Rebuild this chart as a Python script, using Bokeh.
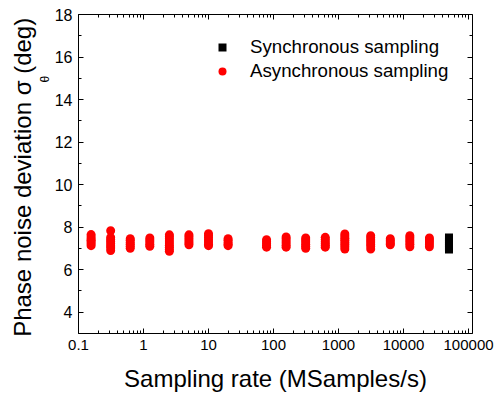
from bokeh.plotting import figure
from bokeh.models import (Range1d, FixedTicker, LogAxis, LinearAxis, Title,
                          Legend, LegendItem, CustomJSTickFormatter, ColumnDataSource)
from bokeh.embed import file_html
from bokeh.resources import INLINE

# ---------------- data ----------------
async_rates = [0.15625, 0.3125, 0.625, 1.25, 2.5, 5, 10, 20, 78.125,
               156.25, 312.5, 625, 1250, 3125, 6250, 12500, 25000]
async_dev = [
    [7.65, 7.55, 7.45, 7.38, 7.30, 7.22, 7.13],
    [7.83, 7.52, 7.42, 7.33, 7.22, 7.12, 7.02, 6.90],
    [7.46, 7.38, 7.28, 7.20, 7.10, 7.01],
    [7.49, 7.40, 7.30, 7.20, 7.10],
    [7.64, 7.55, 7.45, 7.35, 7.25, 7.15, 7.05, 6.95, 6.87],
    [7.64, 7.55, 7.45, 7.35, 7.25, 7.17],
    [7.69, 7.60, 7.50, 7.40, 7.30, 7.20, 7.13],
    [7.46, 7.38, 7.28, 7.20, 7.13],
    [7.41, 7.32, 7.22, 7.14, 7.06],
    [7.54, 7.45, 7.35, 7.25, 7.15, 7.06],
    [7.49, 7.40, 7.30, 7.20, 7.10, 7.01],
    [7.52, 7.42, 7.32, 7.22, 7.14, 7.06],
    [7.68, 7.58, 7.48, 7.38, 7.28, 7.18, 7.08, 6.97],
    [7.60, 7.50, 7.40, 7.30, 7.20, 7.10, 6.97],
    [7.46, 7.38, 7.30, 7.22, 7.17],
    [7.60, 7.50, 7.40, 7.30, 7.20, 7.08],
    [7.49, 7.40, 7.30, 7.20, 7.08],
]
sync_rate = 50000
sync_dev = [7.51, 7.42, 7.32, 7.22, 7.12, 7.03, 6.95]

x_ticks = [0.1, 1, 10, 100, 1000, 10000, 100000]
x_tick_labels = ["0.1", "1", "10", "100", "1000", "10000", "100000"]
y_ticks = [4, 6, 8, 10, 12, 14, 16, 18]
y_minor = [3, 5, 7, 9, 11, 13, 15, 17]
x_minor = [m * d for d in [0.1, 1, 10, 100, 1000, 10000] for m in range(2, 10)]

x_title = "Sampling rate (MSamples/s)"
y_title = "Phase noise deviation σ  (deg)"
y_sub = "θ"

# ---------------- layout ----------------
W, H = 494, 395
L, R, T, B = 78, 472, 14, 333
X0, X1 = 0.1, 1.15e5
Y0, Y1 = 3, 18
FONT = "Liberation Sans"

p = figure(width=W, height=H, x_axis_type="log",
           x_range=Range1d(X0, X1), y_range=Range1d(Y0, Y1),
           output_backend="svg", toolbar_location=None,
           min_border_left=L, min_border_right=W - R,
           min_border_top=T, min_border_bottom=H - B)
p.xgrid.visible = False
p.ygrid.visible = False
p.outline_line_color = None
p.background_fill_color = "white"
p.border_fill_color = "white"

xs = [r for r, devs in zip(async_rates, async_dev) for _ in devs]
ys = [v for devs in async_dev for v in devs]
src_async = ColumnDataSource(dict(x=xs, y=ys))
src_sync = ColumnDataSource(dict(x=[sync_rate] * len(sync_dev), y=sync_dev))

r_async = p.scatter("x", "y", source=src_async, marker="circle", size=9,
                    fill_color="#ff0000", line_color=None)
r_sync = p.scatter("x", "y", source=src_sync, marker="square", size=8,
                   fill_color="black", line_color=None)

xfmt = CustomJSTickFormatter(args=dict(vals=x_ticks, labs=x_tick_labels), code="""
for (let i = 0; i < vals.length; i++) {
  if (Math.abs(Math.log10(tick) - Math.log10(vals[i])) < 1e-6) return labs[i];
}
return '';
""")

def style(ax, size=None):
    ax.axis_line_color = "black"
    ax.axis_line_width = 1
    ax.major_tick_line_color = "black"
    ax.minor_tick_line_color = "black"
    ax.major_tick_in = 5
    ax.major_tick_out = 0
    ax.minor_tick_in = 3
    ax.minor_tick_out = 0
    if size:
        ax.major_label_text_font = FONT
        ax.major_label_text_font_size = size
        ax.major_label_text_color = "black"
        ax.major_label_standoff = 6
    else:
        ax.major_label_text_font_size = "1px"
        ax.major_label_text_color = None
        ax.major_label_standoff = 0

p.xaxis[0].ticker = FixedTicker(ticks=x_ticks, minor_ticks=x_minor)
p.xaxis[0].formatter = xfmt
p.yaxis[0].ticker = FixedTicker(ticks=y_ticks, minor_ticks=y_minor)
style(p.xaxis[0], "15px")
style(p.yaxis[0], "16px")

p.xaxis[0].axis_label = x_title
p.xaxis[0].axis_label_text_font = FONT
p.xaxis[0].axis_label_text_font_size = "24px"
p.xaxis[0].axis_label_text_font_style = "normal"
p.xaxis[0].axis_label_text_color = "black"
p.xaxis[0].axis_label_standoff = 12

top = LogAxis(ticker=FixedTicker(ticks=x_ticks, minor_ticks=x_minor))
right = LinearAxis(ticker=FixedTicker(ticks=y_ticks, minor_ticks=y_minor))
style(top)
style(right)
p.add_layout(top, "above")
p.add_layout(right, "right")

# y title with subscript: sub title panel next to the axis, main title outside it
sub = Title(text=y_sub, align="left", offset=251, standoff=0,
            text_font=FONT, text_font_size="12px", text_font_style="normal",
            text_color="black")
main = Title(text=y_title, align="center", offset=0, standoff=0,
             text_font=FONT, text_font_size="24px", text_font_style="normal",
             text_color="black")
p.add_layout(sub, "left")
p.add_layout(main, "left")

legend = Legend(items=[LegendItem(label="Synchronous sampling", renderers=[r_sync]),
                       LegendItem(label="Asynchronous sampling", renderers=[r_async])],
                location=(134, 251))
legend.border_line_color = None
legend.background_fill_alpha = 0
legend.label_text_font = FONT
legend.label_text_font_size = "18.7px"
legend.label_text_color = "black"
legend.padding = 0
legend.margin = 0
legend.spacing = 2
legend.glyph_width = 20
legend.glyph_height = 20
legend.label_height = 20
legend.label_standoff = 18
p.add_layout(legend)

open("out.html", "w").write(file_html(p, INLINE))
